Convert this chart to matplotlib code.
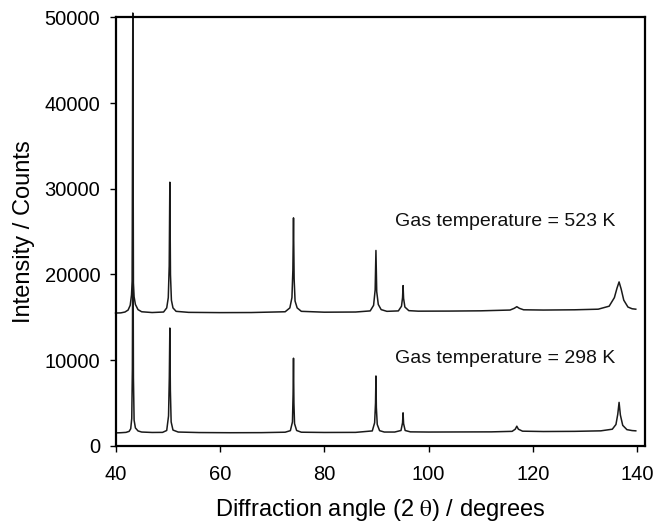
import matplotlib
matplotlib.use("Agg")
import matplotlib.pyplot as plt

# XRD patterns (2-theta in degrees, counts)
angle_298 = [40.0, 41.0, 42.0, 42.6, 42.9, 43.1, 43.22, 43.32, 43.42, 43.55, 43.8,
             44.3, 45.0, 47.0, 49.0, 49.8, 50.15, 50.3, 50.4, 50.5, 50.65, 51.0,
             52.0, 56.0, 62.0, 68.0, 72.5, 73.5, 73.9, 74.02, 74.1, 74.18, 74.3,
             74.7, 75.6, 80.0, 86.0, 89.2, 89.65, 89.82, 89.9, 89.98, 90.15, 90.6,
             91.5, 93.5, 94.7, 95.0, 95.1, 95.2, 95.5, 96.5, 100.0, 106.0, 112.0,
             116.0, 116.6, 116.9, 117.2, 118.0, 122.0, 128.0, 133.0, 135.2, 135.9,
             136.25, 136.5, 136.75, 137.2, 138.0, 139.0, 139.7]
counts_298 = [1520, 1540, 1580, 1700, 2000, 3200, 9000, 30000, 8000, 3000, 2100,
              1750, 1620, 1570, 1580, 1800, 3500, 8000, 13750, 6500, 2800, 1850,
              1620, 1560, 1540, 1550, 1600, 1780, 2800, 6000, 10230, 5000, 2600,
              1800, 1600, 1570, 1580, 1750, 2700, 5000, 8160, 4500, 2500, 1780,
              1620, 1620, 1800, 2700, 3860, 2600, 1800, 1640, 1620, 1630, 1640,
              1700, 1950, 2300, 1950, 1720, 1680, 1700, 1760, 1950, 2500, 3700,
              5080, 3600, 2400, 1900, 1790, 1760]

angle_523 = [40.0, 41.0, 41.8, 42.4, 42.8, 43.05, 43.18, 43.3, 43.42, 43.55, 43.8,
             44.3, 45.0, 47.0, 49.2, 49.8, 50.1, 50.28, 50.4, 50.52, 50.7, 51.0,
             51.6, 54.0, 60.0, 66.0, 72.5, 73.4, 73.8, 73.98, 74.1, 74.22, 74.4,
             74.8, 75.6, 80.0, 86.0, 88.8, 89.45, 89.75, 89.9, 90.05, 90.35, 90.9,
             92.0, 94.2, 94.8, 95.0, 95.1, 95.2, 95.45, 96.2, 98.0, 104.0, 110.0,
             115.6, 116.4, 116.9, 117.4, 118.2, 122.0, 128.0, 132.5, 134.6, 135.6,
             136.1, 136.5, 136.9, 137.4, 138.2, 139.0, 139.7]
counts_523 = [15500, 15520, 15620, 15850, 16400, 17600, 19200, 50500, 19000, 17400, 16500,
              15900, 15650, 15560, 15620, 16100, 17300, 21000, 30760, 20000, 17000, 16100,
              15700, 15580, 15550, 15560, 15650, 16100, 17300, 20500, 26600, 19500, 16900,
              16100, 15700, 15600, 15620, 15750, 16400, 18200, 22800, 18000, 16500, 15900,
              15700, 15750, 16300, 17300, 18700, 17200, 16200, 15780, 15720, 15730, 15760,
              15850, 16050, 16240, 16050, 15880, 15850, 15880, 15950, 16300, 17300,
              18400, 19130, 18300, 17000, 16200, 16000, 15950]

labels = ["Gas temperature = 523 K", "Gas temperature = 298 K"]
label_pos = [(93.5, 26200), (93.5, 10250)]

x_ticks = [40, 60, 80, 100, 120, 140]
y_ticks = [0, 10000, 20000, 30000, 40000, 50000]

plt.rcParams['font.family'] = ['Liberation Sans', 'DejaVu Sans']
plt.rcParams['mathtext.fontset'] = 'stix'

fig = plt.figure(figsize=(6.53, 5.24), dpi=100)
ax = fig.add_axes([0.177, 0.149, 0.811, 0.818])

line_color = '#1a1a1a'
ax.plot(angle_298, counts_298, color=line_color, lw=1.1)
ax.plot(angle_523, counts_523, color=line_color, lw=1.1, clip_on=False)

for text, (tx, ty) in zip(labels, label_pos):
    ax.text(tx, ty, text, fontsize=14, ha='left', va='center', color='#111111')

ax.set_xlim(40, 141.5)
ax.set_ylim(0, 50000)
ax.set_xticks(x_ticks)
ax.set_yticks(y_ticks)
ax.tick_params(direction='out', length=4, width=1, labelsize=14.5)
ax.tick_params(axis='x', pad=10)
ax.tick_params(axis='y', pad=7)

for side in ['left', 'right', 'top', 'bottom']:
    ax.spines[side].set_linewidth(1.6)

ax.set_xlabel(r'Diffraction angle (2 $\mathrm{\theta}$) / degrees', fontsize=17, labelpad=9)
ax.set_ylabel('Intensity / Counts', fontsize=17, labelpad=7)

fig.savefig('out.png', dpi=100)
